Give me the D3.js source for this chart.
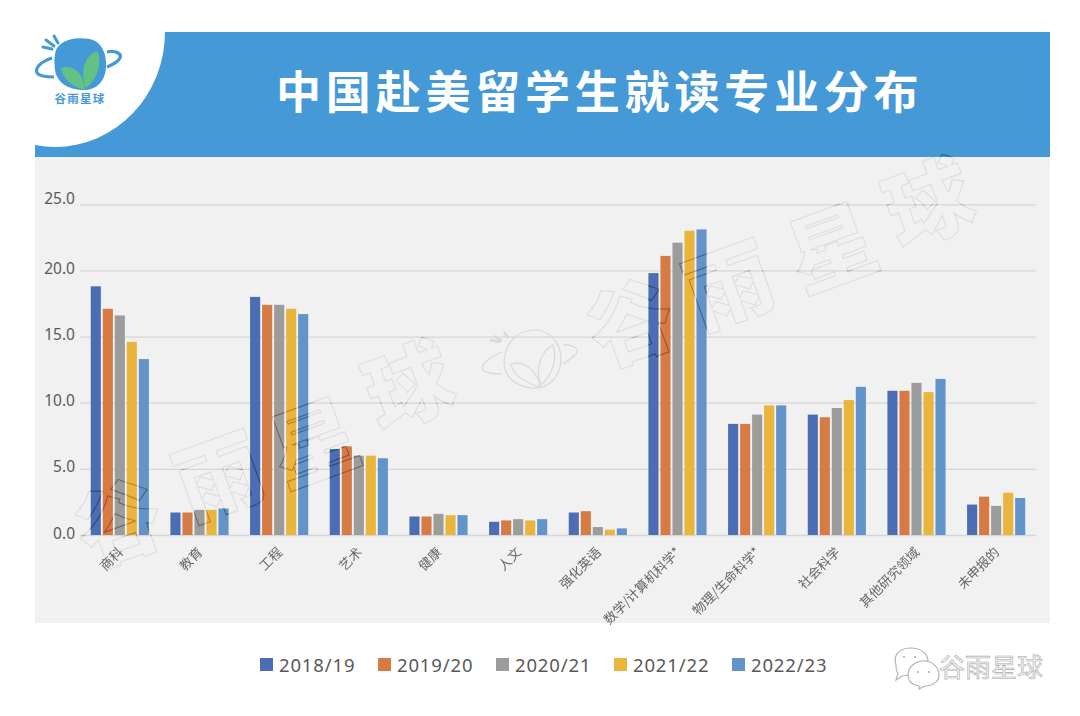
<!DOCTYPE html>
<html>
<head>
<meta charset="utf-8">
<script src="https://cdn.jsdelivr.net/npm/d3@7"></script>
<style>
  html, body { margin: 0; padding: 0; background: #fff; }
  svg { display: block; }
  text { font-family: "Noto Sans", "Noto Sans CJK SC", sans-serif; }
  .cjk { font-family: "Noto Sans CJK SC", sans-serif; }
</style>
</head>
<body>
<div id="chart"></div>
<script>
const categories = ['商科', '教育', '工程', '艺术', '健康', '人文', '强化英语', '数学/计算机科学*', '物理/生命科学*', '社会科学', '其他研究领域', '未申报的'];
const years = ['2018/19', '2019/20', '2020/21', '2021/22', '2022/23'];
const s2018 = [18.8, 1.7, 18.0, 6.5, 1.4, 1.0, 1.7, 19.8, 8.4, 9.1, 10.9, 2.3];
const s2019 = [17.1, 1.7, 17.4, 6.7, 1.4, 1.1, 1.8, 21.1, 8.4, 8.9, 10.9, 2.9];
const s2020 = [16.6, 1.9, 17.4, 6.0, 1.6, 1.2, 0.6, 22.1, 9.1, 9.6, 11.5, 2.2];
const s2021 = [14.6, 1.9, 17.1, 6.0, 1.5, 1.1, 0.4, 23.0, 9.8, 10.2, 10.8, 3.2];
const s2022 = [13.3, 2.0, 16.7, 5.8, 1.5, 1.2, 0.5, 23.1, 9.8, 11.2, 11.8, 2.8];
const seriesValues = [s2018, s2019, s2020, s2021, s2022];
const colors = ['#4a6db4', '#d67b43', '#9c9c9c', '#e9b53d', '#6294c9'];
const yTicks = [0, 5, 10, 15, 20, 25];

const width = 1080, height = 716;
const blue = '#4499d6';

const svg = d3.select('#chart').append('svg')
  .attr('width', width)
  .attr('height', height);

// header and panel
svg.append('rect').attr('x', 35).attr('y', 157).attr('width', 1015).attr('height', 466).attr('fill', '#f1f1f1');
svg.append('rect').attr('x', 35).attr('y', 32).attr('width', 1015).attr('height', 125).attr('fill', blue);
svg.append('path')
  .attr('d', 'M35,32 L165,32 A110,115 0 0 1 55,147 Q45,147 35,145 Z')
  .attr('fill', '#fff');
svg.append('text')
  .attr('class', 'cjk')
  .attr('x', 276).attr('y', 109)
  .attr('font-size', 45).attr('font-weight', 700)
  .attr('letter-spacing', 4.8)
  .attr('fill', '#fff')
  .text('中国赴美留学生就读专业分布');

// logo
const logo = svg.append('g');
logo.append('path')
  .attr('d', 'M57,48 C64,38 78,37 90,39 C102,42 107,54 106,68 C105,82 96,90 84,90 C70,90 57,84 55,70 C54,62 54,54 57,48 Z')
  .attr('fill', blue);
logo.append('path')
  .attr('d', 'M85,90 C72,87 62,78 61,68 C72,64 84,72 85,90 Z M86,88 C80,72 84,56 97,51 C103,62 97,80 86,88 Z')
  .attr('fill', '#63c184');
logo.append('path')
  .attr('d', 'M52,58 C40,62 35,68 37,73 C40,77 48,77 54,77 M107,52 C116,50 122,54 120,58 C118,62 112,65 107,67')
  .attr('fill', 'none').attr('stroke', blue).attr('stroke-width', 3.2);
logo.append('path')
  .attr('d', 'M54,36 L58,43 M46,40 L54,46 M43,47 L52,49')
  .attr('fill', 'none').attr('stroke', blue).attr('stroke-width', 3).attr('stroke-linecap', 'round');
logo.append('text')
  .attr('class', 'cjk')
  .attr('x', 80).attr('y', 103)
  .attr('text-anchor', 'middle')
  .attr('font-size', 11.5).attr('font-weight', 700)
  .attr('letter-spacing', 1.2)
  .attr('fill', blue)
  .text('谷雨星球');

// scales
const x0 = d3.scaleBand().domain(categories).range([80, 1036]).paddingInner(0.27).paddingOuter(0.135);
const x1 = d3.scaleBand().domain(years).range([0, x0.bandwidth()]).paddingInner(0.16);
const y = d3.scaleLinear().domain([0, 25]).range([535, 204.3]);

// gridlines
const yAxis = svg.append('g')
  .attr('transform', 'translate(80,0)')
  .call(d3.axisLeft(y).tickValues(yTicks).tickFormat(d3.format('.1f')).tickSize(-956).tickPadding(5));
yAxis.select('.domain').remove();
yAxis.selectAll('line').attr('stroke', '#d6d6d6').attr('stroke-width', 1.3);
yAxis.selectAll('text')
  .attr('fill', '#595959')
  .attr('font-size', 15.5)
  .attr('dy', d => d === 25 ? '-0.05em' : '0.2em');

// bars
const groups = svg.append('g').selectAll('g')
  .data(categories)
  .enter()
  .append('g')
  .attr('transform', d => 'translate(' + x0(d) + ',0)');

groups.selectAll('rect')
  .data((d, i) => years.map((yr, j) => ({ yr: yr, value: seriesValues[j][i], color: colors[j] })))
  .enter()
  .append('rect')
  .attr('x', d => x1(d.yr))
  .attr('y', d => y(d.value))
  .attr('width', x1.bandwidth())
  .attr('height', d => y(0) - y(d.value))
  .attr('fill', d => d.color);

// watermark
const mark = svg.append('g')
  .style('mix-blend-mode', 'color-burn')
  .attr('fill', 'none')
  .attr('stroke', '#343434')
  .attr('stroke-opacity', 0.35)
  .attr('stroke-width', 1.1);
[['谷', 130, 523], ['雨', 230, 476], ['星', 325, 443], ['球', 420, 386], ['谷', 642, 323], ['雨', 740, 285], ['星', 843, 248], ['球', 940, 203]]
  .forEach(w => {
    mark.append('text')
      .attr('class', 'cjk')
      .attr('font-size', 86).attr('font-weight', 900)
      .attr('text-anchor', 'middle')
      .attr('transform', 'translate(' + w[1] + ',' + (w[2] + 30) + ') rotate(-20)')
      .text(w[0]);
  });
const markLogo = svg.append('g')
  .attr('fill', 'none').attr('stroke', '#d8d8d8').attr('stroke-width', 1.2);
markLogo.append('path')
  .attr('d', 'M504,360 C506,340 520,330 535,330 C550,330 562,345 561,360 C560,378 548,388 535,388 C518,388 503,378 504,360 Z');
markLogo.append('path')
  .attr('d', 'M540,387 C528,384 513,376 511,364 C525,360 538,372 540,387 Z M541,385 C535,370 540,352 553,345 C558,358 552,376 541,385 Z');
markLogo.append('path')
  .attr('d', 'M502,352 C488,358 480,365 483,370 C487,374 495,374 502,374 M563,345 C574,344 580,350 576,354 C572,358 568,361 563,364');
markLogo.append('path')
  .attr('d', 'M504,332 L508,338 M494,336 L502,341 M490,340 L500,342')
  .attr('stroke-width', 2.5);

// category labels
svg.append('g').selectAll('text')
  .data(categories)
  .enter()
  .append('text')
  .attr('class', 'cjk')
  .attr('text-anchor', 'end')
  .attr('font-size', 13)
  .attr('fill', '#666')
  .attr('transform', d => 'translate(' + (x0(d) + x0.bandwidth() / 2 + 4) + ',553) rotate(-45)')
  .text(d => d);

// legend
const legend = svg.append('g').selectAll('g')
  .data(years)
  .enter()
  .append('g')
  .attr('transform', (d, i) => 'translate(' + (260 + i * 118) + ',658)');
legend.append('rect')
  .attr('width', 13).attr('height', 13)
  .attr('fill', (d, i) => colors[i]);
legend.append('text')
  .attr('x', 19).attr('y', 13.5)
  .attr('font-size', 18.5)
  .attr('letter-spacing', 0.85)
  .attr('fill', '#595959')
  .text(d => d);

// wechat badge
const badge = svg.append('g').attr('fill', '#fff').attr('stroke', '#b4b4b4').attr('stroke-width', 1.2);
badge.append('path').attr('d', 'M896,665 C892,652 903,648 911,648 C921,648 928,654 928,661 C915,661 908,668 909,675 L902,676 L896,680 L898,673 C896,671 896,668 896,665 Z');
badge.append('path').attr('d', 'M908,675 C908,667 915,661 924,661 C933,661 939,668 939,675 C939,682 932,686 925,686 L919,689 L919,686 C912,685 908,681 908,675 Z');
badge.selectAll('circle')
  .data([[904, 657], [915, 657], [918, 672], [929, 672]])
  .enter()
  .append('circle')
  .attr('cx', d => d[0]).attr('cy', d => d[1]).attr('r', 1)
  .attr('fill', '#aaa').attr('stroke', 'none');
svg.append('text')
  .attr('class', 'cjk')
  .attr('x', 939).attr('y', 677)
  .attr('font-size', 26)
  .attr('fill', '#f4f4f4').attr('stroke', '#aaa').attr('stroke-width', 0.6)
  .text('谷雨星球');
</script>
</body>
</html>
